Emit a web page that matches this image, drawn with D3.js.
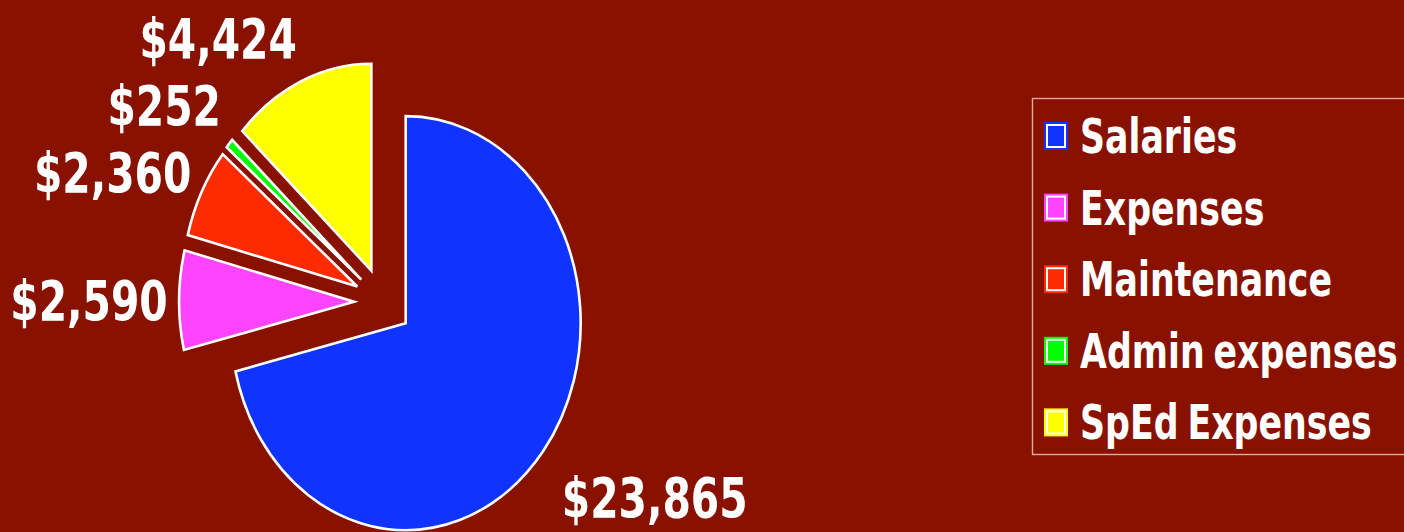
<!DOCTYPE html>
<html>
<head>
<meta charset="utf-8">
<script src="https://cdn.jsdelivr.net/npm/d3@7"></script>
<style>
  html, body { margin: 0; padding: 0; background: #881100; overflow: hidden; }
  text { font-family: "DejaVu Sans Condensed", "DejaVu Sans", sans-serif; font-stretch: condensed; font-weight: bold; fill: #fff; }
</style>
</head>
<body>
<script>
// chart data
var categories = ["Salaries", "Expenses", "Maintenance", "Admin expenses", "SpEd Expenses"];
var amounts = [23865, 2590, 2360, 252, 4424];
var sliceColors = ["#1133ff", "#ff44ff", "#ff2b00", "#00ff00", "#ffff00"];

var svgWidth = 1404;
var svgHeight = 532;

// pie geometry (the pie is an ellipse, taller than wide)
var cx = 383, cy = 302;
var rx = 175, ry = 207;
var explode = 0.165;     // fraction of radius each slice is pulled out
var labelFactor = 1.236; // ray point where the label box corner sits
var squeeze = 0.81;      // horizontal squeeze of the bold face

var svg = d3.select("body")
  .append("svg")
  .attr("width", svgWidth)
  .attr("height", svgHeight);

svg.append("rect")
  .attr("width", svgWidth)
  .attr("height", svgHeight)
  .attr("fill", "#881100");

var color = d3.scaleOrdinal().domain(categories).range(sliceColors);
var money = d3.format("$,");

var table = categories.map((c, i) => ({ name: c, value: amounts[i] }));

var pie = d3.pie().sort(null).value(d => d.value);
var arcs = pie(table);

var arc = d3.arc().innerRadius(0).outerRadius(ry);

function midOf(d) { return (d.startAngle + d.endAngle) / 2; }

// slices
var slices = svg.append("g")
  .selectAll("g")
  .data(arcs)
  .enter()
  .append("g")
  .attr("transform", d => {
    var a = midOf(d);
    var dx = cx + explode * rx * Math.sin(a);
    var dy = cy - explode * ry * Math.cos(a);
    return `translate(${dx}, ${dy}) scale(${rx / ry}, 1)`;
  });

slices.append("path")
  .attr("d", arc)
  .attr("fill", d => color(d.data.name))
  .attr("stroke", "#fff")
  .attr("stroke-width", 2.6)
  .attr("stroke-linejoin", "miter")
  .attr("vector-effect", "non-scaling-stroke");

// value labels: box corner nearest the pie sits on the mid-angle ray
var labelSize = 56;
var capH = 0.729 * labelSize;
var padEnd = -1, padStart = 9, padTop = 16, padBottom = 10, minGap = 26;

var labelPos = arcs.map(d => {
  var a = midOf(d);
  var s = Math.sin(a), c = Math.cos(a);
  var px = cx + labelFactor * rx * s;
  var py = cy - labelFactor * ry * c;
  var anchor = s < -0.17 ? "end" : (s > 0.17 ? "start" : "middle");
  var x = anchor === "end" ? px - padEnd : (anchor === "start" ? px + padStart : px);
  var y;
  if (c > 0.17) y = py - padBottom;
  else if (c < -0.17) y = py + padTop + capH;
  else y = py + capH / 2;
  return { d: d, x: x, y: y, anchor: anchor };
});

// push labels on the same side apart so they don't collide
["end", "start"].forEach(side => {
  var group = labelPos.filter(l => l.anchor === side).sort((p, q) => p.y - q.y);
  for (var i = 1; i < group.length; i++) {
    var lowest = group[i - 1].y + minGap + capH;
    if (group[i].y < lowest) group[i].y = lowest;
  }
});

svg.append("g")
  .selectAll("g")
  .data(labelPos)
  .enter()
  .append("g")
  .attr("transform", l => `translate(${l.x}, ${l.y}) scale(${squeeze}, 1)`)
  .append("text")
  .attr("text-anchor", l => l.anchor)
  .attr("font-size", labelSize)
  .text(l => money(l.d.data.value));

// legend
var legendX = 1032, legendY = 98;
var legendH = 356, rowStep = 71.6;

var legend = svg.append("g")
  .attr("transform", `translate(${legendX}, ${legendY})`);

legend.append("rect")
  .attr("x", 0.5)
  .attr("y", 0.5)
  .attr("width", svgWidth)
  .attr("height", legendH)
  .attr("fill", "none")
  .attr("stroke", "#dfaaa2")
  .attr("stroke-width", 1.4);

var rows = legend.selectAll("g.row")
  .data(categories)
  .enter()
  .append("g")
  .attr("class", "row")
  .attr("transform", (d, i) => `translate(12, ${24 + i * rowStep})`);

rows.append("rect")
  .attr("x", 1)
  .attr("y", 1)
  .attr("width", 22)
  .attr("height", 26)
  .attr("fill", "#fff")
  .attr("stroke", d => color(d))
  .attr("stroke-width", 2);

rows.append("rect")
  .attr("x", 4)
  .attr("y", 4)
  .attr("width", 16)
  .attr("height", 20)
  .attr("fill", d => color(d));

rows.append("g")
  .attr("transform", `translate(36, 31) scale(0.805, 1)`)
  .append("text")
  .attr("font-size", 48)
  .attr("word-spacing", -4)
  .text(d => d);
</script>
</body>
</html>
